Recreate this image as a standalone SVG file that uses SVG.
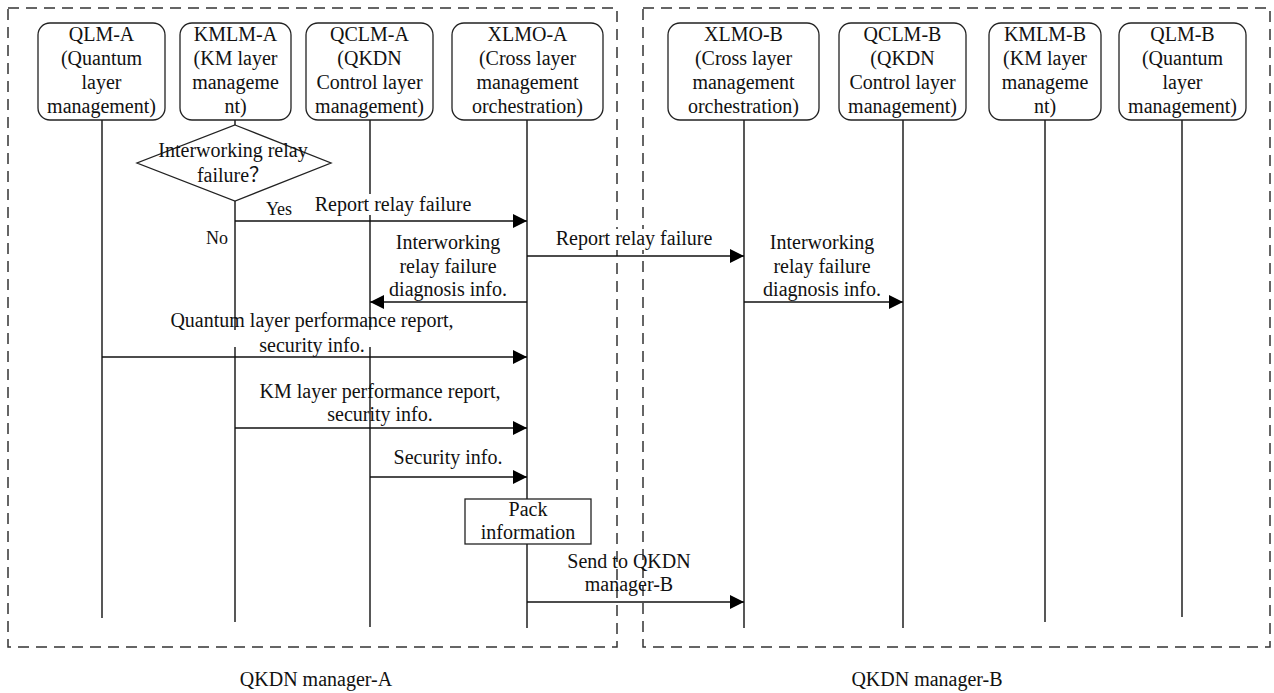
<svg xmlns="http://www.w3.org/2000/svg" width="1274" height="693" viewBox="0 0 1274 693">
  <defs>
    <marker id="arrow" markerUnits="userSpaceOnUse" markerWidth="16" markerHeight="14" refX="14" refY="7" orient="auto">
      <path d="M0,0 L14,7 L0,14 Z" fill="#000"/>
    </marker>
    <style>
      text { font-size: 20px; fill: #111; text-anchor: middle; }
      .small { font-size: 18px; }
      .frame { fill: none; stroke: #333; stroke-width: 1.5; stroke-dasharray: 11 7; }
      .box { fill: #fff; stroke: #222; stroke-width: 1.3; }
      .life { stroke: #111; stroke-width: 1.4; fill: none; }
      .msg { stroke: #111; stroke-width: 1.4; fill: none; marker-end: url(#arrow); }
      .mask { fill: #fff; stroke: none; }
    </style>
  </defs>
  <rect width="1274" height="693" fill="#fff"/>

  <g font-family="Liberation Serif, Tinos, Times New Roman, DejaVu Serif, serif">

  <!-- management domains -->
  <g id="domain-a">
    <rect class="frame" x="8" y="8" width="609" height="639"/>
    <text x="316" y="686">QKDN manager-A</text>
  </g>
  <g id="domain-b">
    <rect class="frame" x="643" y="8" width="627" height="639"/>
    <text x="927" y="686">QKDN manager-B</text>
  </g>

  <!-- lifelines -->
  <g id="lifelines">
    <line class="life" x1="102" y1="120" x2="102" y2="618"/>
    <line class="life" x1="235" y1="120" x2="235" y2="125"/>
    <line class="life" x1="235" y1="201" x2="235" y2="622"/>
    <line class="life" x1="370" y1="120" x2="370" y2="627"/>
    <line class="life" x1="527" y1="120" x2="527" y2="628"/>
    <line class="life" x1="744" y1="120" x2="744" y2="628"/>
    <line class="life" x1="903" y1="120" x2="903" y2="628"/>
    <line class="life" x1="1045" y1="120" x2="1045" y2="622"/>
    <line class="life" x1="1182" y1="120" x2="1182" y2="617"/>
  </g>

  <!-- connectors and their labels -->
  <g id="connectors">
    <rect class="mask" x="312" y="194" width="162" height="21"/>
    <rect class="mask" x="555" y="229" width="160" height="21"/>
    <rect class="mask" x="175" y="330" width="275" height="17"/>

    <path class="msg" d="M235,221 H527"/>
    <text class="small" x="279" y="215">Yes</text>
    <text class="small" x="217" y="244">No</text>
    <text x="393" y="211">Report relay failure</text>

    <path class="msg" d="M527,256 H744"/>
    <text x="634" y="245">Report relay failure</text>

    <path class="msg" d="M527,302 H370"/>
    <text x="448" y="249">Interworking</text>
    <text x="448" y="273">relay failure</text>
    <text x="448" y="296">diagnosis info.</text>

    <path class="msg" d="M744,302 H903"/>
    <text x="822" y="249">Interworking</text>
    <text x="822" y="273">relay failure</text>
    <text x="822" y="296">diagnosis info.</text>

    <path class="msg" d="M102,357 H527"/>
    <text x="312" y="327">Quantum layer performance report,</text>
    <text x="312" y="352">security info.</text>

    <path class="msg" d="M235,428 H527"/>
    <text x="380" y="398">KM layer performance report,</text>
    <text x="380" y="421">security info.</text>

    <path class="msg" d="M370,477 H527"/>
    <text x="448" y="464">Security info.</text>

    <path class="msg" d="M527,602 H744"/>
    <text x="629" y="568">Send to QKDN</text>
    <text x="629" y="591">manager-B</text>
  </g>

  <!-- decision and process steps -->
  <g id="decision-relay">
    <polygon points="235,125 331,163 235,201 137,163" fill="#fff" stroke="#222" stroke-width="1.3"/>
    <text x="233" y="157">Interworking relay</text>
    <text x="233" y="182">failure<tspan font-family="Noto Sans CJK SC, sans-serif">？</tspan></text>
  </g>
  <g id="pack-info">
    <rect x="465" y="499" width="126" height="45" fill="#fff" stroke="#222" stroke-width="1.3"/>
    <text x="528" y="516">Pack</text>
    <text x="528" y="539">information</text>
  </g>

  <!-- participants, manager A -->
  <g id="qlm-a">
    <rect class="box" x="38" y="23" width="127" height="97" rx="12"/>
    <text x="101.5" y="41">QLM-A</text>
    <text x="101.5" y="65">(Quantum</text>
    <text x="101.5" y="89">layer</text>
    <text x="101.5" y="113">management)</text>
  </g>
  <g id="kmlm-a">
    <rect class="box" x="180" y="23" width="111" height="97" rx="12"/>
    <text x="235.5" y="41">KMLM-A</text>
    <text x="235.5" y="65">(KM layer</text>
    <text x="235.5" y="89">manageme</text>
    <text x="235.5" y="113">nt)</text>
  </g>
  <g id="qclm-a">
    <rect class="box" x="306" y="23" width="127" height="97" rx="12"/>
    <text x="369.5" y="41">QCLM-A</text>
    <text x="369.5" y="65">(QKDN</text>
    <text x="369.5" y="89">Control layer</text>
    <text x="369.5" y="113">management)</text>
  </g>
  <g id="xlmo-a">
    <rect class="box" x="452" y="23" width="151" height="97" rx="12"/>
    <text x="527.5" y="41">XLMO-A</text>
    <text x="527.5" y="65">(Cross layer</text>
    <text x="527.5" y="89">management</text>
    <text x="527.5" y="113">orchestration)</text>
  </g>

  <!-- participants, manager B -->
  <g id="xlmo-b">
    <rect class="box" x="668" y="23" width="151" height="97" rx="12"/>
    <text x="743.5" y="41">XLMO-B</text>
    <text x="743.5" y="65">(Cross layer</text>
    <text x="743.5" y="89">management</text>
    <text x="743.5" y="113">orchestration)</text>
  </g>
  <g id="qclm-b">
    <rect class="box" x="839" y="23" width="127" height="97" rx="12"/>
    <text x="902.5" y="41">QCLM-B</text>
    <text x="902.5" y="65">(QKDN</text>
    <text x="902.5" y="89">Control layer</text>
    <text x="902.5" y="113">management)</text>
  </g>
  <g id="kmlm-b">
    <rect class="box" x="989" y="23" width="112" height="97" rx="12"/>
    <text x="1045" y="41">KMLM-B</text>
    <text x="1045" y="65">(KM layer</text>
    <text x="1045" y="89">manageme</text>
    <text x="1045" y="113">nt)</text>
  </g>
  <g id="qlm-b">
    <rect class="box" x="1119" y="23" width="127" height="97" rx="12"/>
    <text x="1182.5" y="41">QLM-B</text>
    <text x="1182.5" y="65">(Quantum</text>
    <text x="1182.5" y="89">layer</text>
    <text x="1182.5" y="113">management)</text>
  </g>

  </g>
</svg>
